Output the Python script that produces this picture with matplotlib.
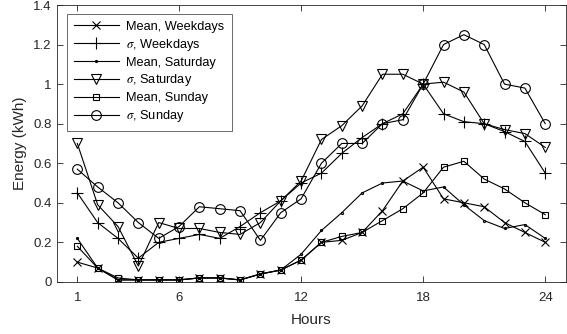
import matplotlib
matplotlib.use("Agg")
import matplotlib.pyplot as plt

hours = list(range(1, 25))
mean_weekdays = [0.10, 0.07, 0.01, 0.01, 0.01, 0.01, 0.02, 0.02, 0.01, 0.04, 0.06, 0.11,
                 0.20, 0.21, 0.25, 0.36, 0.51, 0.58, 0.42, 0.40, 0.38, 0.30, 0.25, 0.20]
sigma_weekdays = [0.45, 0.30, 0.22, 0.12, 0.20, 0.22, 0.24, 0.22, 0.28, 0.35, 0.41, 0.50,
                  0.55, 0.65, 0.73, 0.80, 0.85, 1.00, 0.85, 0.81, 0.80, 0.76, 0.71, 0.55]
mean_saturday = [0.22, 0.07, 0.01, 0.01, 0.01, 0.01, 0.02, 0.02, 0.01, 0.04, 0.06, 0.14,
                 0.26, 0.35, 0.45, 0.50, 0.51, 0.46, 0.48, 0.39, 0.31, 0.27, 0.29, 0.22]
sigma_saturday = [0.70, 0.39, 0.28, 0.08, 0.30, 0.27, 0.27, 0.25, 0.24, 0.30, 0.41, 0.51,
                  0.72, 0.79, 0.89, 1.05, 1.05, 1.00, 1.01, 0.96, 0.80, 0.77, 0.75, 0.68]
mean_sunday = [0.18, 0.07, 0.02, 0.01, 0.01, 0.01, 0.02, 0.02, 0.01, 0.04, 0.06, 0.11,
               0.20, 0.23, 0.25, 0.31, 0.37, 0.45, 0.58, 0.61, 0.52, 0.47, 0.40, 0.34]
sigma_sunday = [0.57, 0.48, 0.40, 0.30, 0.22, 0.28, 0.38, 0.37, 0.36, 0.21, 0.35, 0.42,
                0.60, 0.70, 0.70, 0.80, 0.82, 1.00, 1.20, 1.25, 1.20, 1.00, 0.98, 0.80]

labels = ["Mean, Weekdays", r"$\sigma$, Weekdays", "Mean, Saturday",
          r"$\sigma$, Saturday", "Mean, Sunday", r"$\sigma$, Sunday"]
x_ticks = [1, 6, 12, 18, 24]
y_ticks = [0, 0.2, 0.4, 0.6, 0.8, 1.0, 1.2, 1.4]
y_tick_labels = ["0", "0.2", "0.4", "0.6", "0.8", "1", "1.2", "1.4"]

plt.rcParams['font.family'] = ['Liberation Sans', 'DejaVu Sans']
plt.rcParams['mathtext.fontset'] = 'stix'

fig = plt.figure(figsize=(5.67, 3.34), dpi=100)
ax = fig.add_axes([0.1005, 0.156, 0.897, 0.829])

series = [mean_weekdays, sigma_weekdays, mean_saturday, sigma_saturday, mean_sunday, sigma_sunday]
markers = ['x', '+', '.', 'v', 's', 'o']
msizes = [6, 8, 3, 7, 5, 7]
for s, m, ms, lab in zip(series, markers, msizes, labels):
    ax.plot(hours, s, color='black', linewidth=0.8, marker=m, markersize=ms,
            markerfacecolor='none', markeredgecolor='black', markeredgewidth=0.8, label=lab)

ax.set_xlim(0, 25)
ax.set_ylim(0, 1.4)
ax.set_xticks(x_ticks)
ax.set_yticks(y_ticks)
ax.set_yticklabels(y_tick_labels)
ax.tick_params(direction='in', top=True, right=True, labelsize=9.5, length=4, width=0.6,
               colors='#262626')
ax.tick_params(axis='x', pad=7)
ax.tick_params(axis='y', pad=4)
for sp in ax.spines.values():
    sp.set_linewidth(0.6)
    sp.set_color('#262626')
ax.set_xlabel("Hours", fontsize=11, labelpad=7, color='#262626')
ax.set_ylabel("Energy (kWh)", fontsize=11, labelpad=4, color='#262626')

leg = ax.legend(loc='upper left', bbox_to_anchor=(0.0196, 0.968), borderaxespad=0,
                fontsize=9.2, frameon=True, fancybox=False, edgecolor='#262626',
                handlelength=3.5, borderpad=0.55, labelspacing=0.3, handletextpad=0.6)
leg.get_frame().set_linewidth(0.6)

fig.savefig("out.png", dpi=100)
